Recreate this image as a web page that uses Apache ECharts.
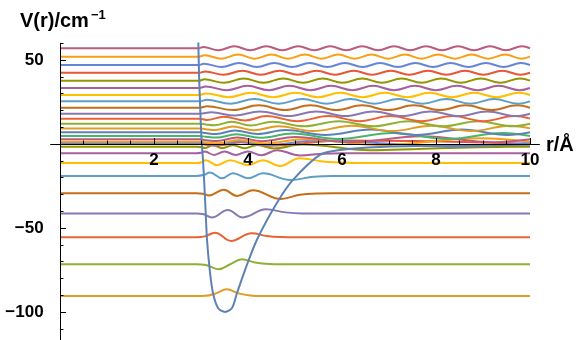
<!DOCTYPE html>
<html>
<head>
<meta charset="utf-8">
<script src="https://cdn.jsdelivr.net/npm/echarts@6/dist/echarts.min.js"></script>
<style>
  html, body { margin: 0; padding: 0; background: #fff; }
  #chart { width: 579px; height: 340px; }
</style>
</head>
<body>
<div id="chart"></div>
<script>
// Potential curve V(r) in cm^-1 against r in Å
const potential = [
  [2.943, 60.5], [2.96, 40], [2.985, 20], [3.015, 0.6], [3.043, -9.5], [3.09, -35],
  [3.128, -57], [3.19, -76], [3.255, -88.7], [3.362, -97.6], [3.511, -100],
  [3.66, -97.6], [3.766, -88.7], [3.95, -74], [4.19, -57], [4.617, -35],
  [4.957, -21.4], [5.53, -6.5], [5.96, -3.6], [6.81, -1.8], [8.3, -0.9], [10, -0.5]
];

// Eigenvalues (cm^-1), lowest first; each wavefunction is drawn offset by its level
const levelE = [
  -90.5, -71.6, -55.5, -41.3, -29.3, -19.0, -11.3, -5.5, -1.6,
  0.1, 0.55, 1.4, 2.8, 4.8, 7.0, 9.3, 12.1, 15.1, 18.0, 21.6,
  25.4, 29.2, 33.3, 37.7, 42.4, 47.0, 52.0, 57.0
];

// Wavefunction deflections [r, psi] for each level
const psi01 = [[0,0],[2.9,0],[3.1,0.1],[3.3,1.4],[3.55,4.0],[3.8,1.6],[4.05,0.3],[4.3,0],[10,0]];
const psi02 = [[0,0],[2.9,0],[3.1,-0.4],[3.37,-2.9],[3.62,0],[3.87,3.0],[4.15,1.0],[4.45,0.1],[4.7,0],[10,0]];
const psi03 = [[0,0],[2.9,0],[3.08,0.5],[3.3,2.7],[3.64,-2.2],[4.08,2.4],[4.4,0.7],[4.7,0.1],[5.0,0],[10,0]];
const psi04 = [[0,0],[2.9,0],[3.06,-0.5],[3.23,-2.4],[3.57,2.0],[3.89,-2.4],[4.38,2.4],[4.8,0.6],[5.15,0],[10,0]];
const psi05 = [[0,0],[2.9,0],[3.04,-0.3],[3.17,-1.3],[3.48,2.0],[3.77,-1.6],[4.1,1.8],[4.7,-3.4],[5.1,-0.9],[5.5,-0.1],[5.8,0],[10,0]];
const psi06 = [[0,0],[2.9,0],[3.05,0.5],[3.19,2.0],[3.45,-1.4],[3.68,1.6],[4.0,-1.4],[4.32,1.6],[4.9,-2.4],[5.4,-0.5],[5.8,0],[10,0]];
const psi07 = [[0,0],[2.9,0],[3.0,0.3],[3.1,1.7],[3.34,-1.3],[3.62,1.7],[4.0,-1.3],[4.32,1.7],[4.68,-1.8],[5.1,2.8],[5.6,0.9],[6.1,0.1],[6.4,0],[10,0]];
const psi08 = [[0,0],[2.9,0],[3.0,0.3],[3.08,1.0],[3.28,-1.0],[3.5,1.0],[3.74,-1.0],[4.0,1.1],[4.28,-1.2],[4.62,1.8],[5.1,-1.3],[5.6,-0.3],[6.0,0],[10,0]];
const psi09 = [[0,0],[2.9,0],[3.0,-0.2],[3.08,-0.8],[3.25,0.9],[3.45,-0.9],[3.68,0.9],[3.92,-0.9],[4.2,1.0],[4.55,-1.1],[5.15,1.3],[6.6,-2.1],[7.6,-1.4],[8.5,-0.6],[9.3,-0.15],[10,0]];
const psi10 = [[0,0],[2.9,0],[2.98,0],[3.1,-0.5],[3.37,-1.0],[3.85,1.0],[4.45,-1.1],[6.0,2.0],[7.5,1.65],[8.8,0.9],[10,0]];
const psi11 = [[0,0],[2.9,0],[2.98,0],[3.1,-0.5],[3.36,-1.0],[3.82,1.0],[4.4,-1.1],[5.5,1.6],[6.9,-0.2],[8.27,-2.0],[9.2,-1.3],[10,0]];
const psi12 = [[0,0],[2.9,0],[2.98,0],[3.1,-0.5],[3.35,-1.0],[3.8,1.0],[4.35,-1.1],[5.2,1.5],[6.77,-2.0],[8.92,2.0],[9.55,1.2],[10,0]];
const psi13 = [[0,0],[2.9,0],[2.98,0],[3.1,-0.5],[3.34,-1.0],[3.77,1.0],[4.3,-1.1],[5.0,1.4],[6.16,-1.8],[7.70,1.8],[9.23,-1.8],[10,0]];
const psi14 = [[0,0],[2.9,0],[2.98,0],[3.1,-0.5],[3.33,-1.0],[3.75,1.0],[4.25,-1.1],[4.95,1.4],[5.91,-1.8],[7.08,1.8],[8.25,-1.8],[9.42,1.8],[10,0]];
const psi15 = [[0,0],[2.9,0],[2.98,0],[3.1,-0.5],[3.32,-1.0],[3.72,1.0],[4.2,-1.1],[4.8,1.3],[5.64,-1.6],[6.61,1.6],[7.58,-1.6],[8.55,1.6],[9.52,-1.6],[10,0]];
const psi16 = [[0,0],[2.9,0],[2.98,0],[3.1,-0.5],[3.30,-1.0],[3.68,1.1],[4.12,-1.1],[4.65,1.3],[5.38,-1.6],[6.22,1.6],[7.06,-1.6],[7.90,1.6],[8.74,-1.6],[9.58,1.6],[10,0]];
const psi17 = [[0,0],[2.9,0],[2.98,0],[3.1,-0.5],[3.28,-1.0],[3.65,1.1],[4.05,-1.1],[4.52,1.2],[5.19,-1.5],[5.93,1.5],[6.67,-1.5],[7.41,1.5],[8.15,-1.5],[8.89,1.5],[9.63,-1.5],[10,0]];
const psi18 = [[0,0],[2.9,0],[2.97,0],[3.12,-0.8],[3.49,1.1],[3.94,-1.1],[4.39,1.5],[5.05,-1.5],[5.71,1.5],[6.37,-1.5],[7.03,1.5],[7.69,-1.5],[8.35,1.5],[9.01,-1.5],[9.67,1.5],[10,0]];
const psi19 = [[0,0],[2.9,0],[2.97,0],[3.22,0.9],[3.72,-1.1],[4.25,1.4],[4.86,-1.4],[5.46,1.4],[6.07,-1.4],[6.67,1.4],[7.28,-1.4],[7.88,1.4],[8.49,-1.4],[9.09,1.4],[9.70,-1.4],[10,0]];
const psi20 = [[0,0],[2.9,0],[2.97,0],[3.13,0.9],[3.68,-1.4],[4.23,1.4],[4.78,-1.4],[5.33,1.4],[5.88,-1.4],[6.43,1.4],[6.98,-1.4],[7.53,1.4],[8.08,-1.4],[8.63,1.4],[9.18,-1.4],[9.73,1.4],[10,0]];
const psi21 = [[0,0],[2.9,0],[2.97,0],[3.12,0.9],[3.63,-1.4],[4.14,1.4],[4.65,-1.4],[5.16,1.4],[5.67,-1.4],[6.18,1.4],[6.69,-1.4],[7.20,1.4],[7.71,-1.4],[8.22,1.4],[8.73,-1.4],[9.24,1.4],[9.75,-1.4],[10,0]];
const psi22 = [[0,0],[2.9,0],[2.96,0],[3.11,0.9],[3.59,-1.3],[4.06,1.3],[4.54,-1.3],[5.01,1.3],[5.49,-1.3],[5.96,1.3],[6.44,-1.3],[6.91,1.3],[7.39,-1.3],[7.86,1.3],[8.34,-1.3],[8.81,1.3],[9.29,-1.3],[9.76,1.3],[10,0]];
const psi23 = [[0,0],[2.9,0],[2.96,0],[3.10,0.9],[3.55,-1.3],[3.99,1.3],[4.44,-1.3],[4.88,1.3],[5.33,-1.3],[5.77,1.3],[6.22,-1.3],[6.66,1.3],[7.11,-1.3],[7.55,1.3],[8.00,-1.3],[8.44,1.3],[8.89,-1.3],[9.33,1.3],[9.78,-1.3],[10,0]];
const psi24 = [[0,0],[2.9,0],[2.96,0],[3.07,0.8],[3.49,-1.3],[3.91,1.3],[4.33,-1.3],[4.75,1.3],[5.17,-1.3],[5.59,1.3],[6.01,-1.3],[6.43,1.3],[6.85,-1.3],[7.27,1.3],[7.69,-1.3],[8.11,1.3],[8.53,-1.3],[8.95,1.3],[9.37,-1.3],[9.79,1.3],[10,0]];
const psi25 = [[0,0],[2.9,0],[2.96,0],[3.09,0.8],[3.48,-1.2],[3.88,1.2],[4.27,-1.2],[4.67,1.2],[5.06,-1.2],[5.46,1.2],[5.85,-1.2],[6.25,1.2],[6.64,-1.2],[7.04,1.2],[7.43,-1.2],[7.83,1.2],[8.22,-1.2],[8.62,1.2],[9.01,-1.2],[9.41,1.2],[9.80,-1.2],[10,0]];
const psi26 = [[0,0],[2.9,0],[2.955,0],[3.06,0.8],[3.44,-1.2],[3.81,1.2],[4.19,-1.2],[4.56,1.2],[4.94,-1.2],[5.31,1.2],[5.69,-1.2],[6.06,1.2],[6.44,-1.2],[6.81,1.2],[7.19,-1.2],[7.56,1.2],[7.94,-1.2],[8.31,1.2],[8.69,-1.2],[9.06,1.2],[9.44,-1.2],[9.81,1.2],[10,0]];
const psi27 = [[0,0],[2.9,0],[2.95,0],[3.08,0.8],[3.43,-1.2],[3.79,1.2],[4.14,-1.2],[4.50,1.2],[4.85,-1.2],[5.21,1.2],[5.56,-1.2],[5.92,1.2],[6.27,-1.2],[6.63,1.2],[6.98,-1.2],[7.34,1.2],[7.69,-1.2],[8.05,1.2],[8.40,-1.2],[8.76,1.2],[9.11,-1.2],[9.47,1.2],[9.82,-1.2],[10,0]];
const psi28 = [[0,0],[2.9,0],[2.95,0],[3.05,0.8],[3.37,-1.2],[3.71,1.2],[4.05,-1.2],[4.39,1.2],[4.73,-1.2],[5.07,1.2],[5.41,-1.2],[5.75,1.2],[6.09,-1.2],[6.43,1.2],[6.77,-1.2],[7.11,1.2],[7.45,-1.2],[7.79,1.2],[8.13,-1.2],[8.47,1.2],[8.81,-1.2],[9.15,1.2],[9.49,-1.2],[9.83,1.2],[10,0]];

const waves = [psi01, psi02, psi03, psi04, psi05, psi06, psi07, psi08, psi09, psi10,
  psi11, psi12, psi13, psi14, psi15, psi16, psi17, psi18, psi19, psi20,
  psi21, psi22, psi23, psi24, psi25, psi26, psi27, psi28];

// Axis ticks and labels
const xMajorTicks = [2, 4, 6, 8, 10];
const xMinorTicks = [0.5, 1, 1.5, 2.5, 3, 3.5, 4.5, 5, 5.5, 6.5, 7, 7.5, 8.5, 9, 9.5];
const yMajorTicks = [-100, -50, 50];
const yMinorTicks = [-110, -90, -80, -70, -60, -40, -30, -20, -10, 10, 20, 30, 40, 60];

const palette = ['#5E81B5', '#E19C24', '#8FB032', '#EB6235', '#8778B3', '#C56E1A', '#5D9EC7',
  '#FFBF00', '#A5609D', '#929600', '#E95536', '#6685D9', '#F89F13', '#BC5B80', '#47B66D'];

const FONT = '"Liberation Sans", Arial, Helvetica, sans-serif';

// Plot box: value 60 at the top edge, value -120 just past the bottom of the canvas
const GRID_TOP = 43.2;
const GRID_BOTTOM = -5.6;
const Y_MIN = -120, Y_MAX = 60;
const plotHeight = 340 - GRID_TOP - GRID_BOTTOM;
// lift the r axis from the bottom edge up to V = 0
const xAxisLift = -plotHeight * (0 - Y_MIN) / (Y_MAX - Y_MIN);

const chart = echarts.init(document.getElementById('chart'), null, { renderer: 'canvas' });

const levelSeries = levelE.map((E, i) => ({
  type: 'line',
  xAxisIndex: 0,
  yAxisIndex: 0,
  data: waves[i].map(([r, d]) => [r, E + d]),
  showSymbol: false,
  smooth: 0.4,
  clip: true,
  silent: true,
  z: 2,
  lineStyle: { color: palette[(i + 1) % palette.length], width: 2 }
}));

const potentialSeries = {
  type: 'line',
  xAxisIndex: 0,
  yAxisIndex: 0,
  data: potential,
  showSymbol: false,
  smooth: 0.3,
  clip: true,
  silent: true,
  z: 3,
  lineStyle: { color: palette[0], width: 2 }
};

const axisText = { color: '#000', fontSize: 17, fontWeight: 'bold', fontFamily: FONT };

chart.setOption({
  animation: false,
  backgroundColor: '#fff',
  grid: { left: 50.6, right: 39.6, top: GRID_TOP, bottom: GRID_BOTTOM, containLabel: false, outerBoundsMode: 'none' },
  xAxis: [
    {
      type: 'value', min: -0.2, max: 10.2, z: 5, position: 'bottom', offset: xAxisLift,
      axisLine: { onZero: false, lineStyle: { color: '#000', width: 1 } },
      axisTick: { inside: true, length: 6, customValues: xMajorTicks, lineStyle: { color: '#000', width: 1 } },
      axisLabel: Object.assign({ customValues: xMajorTicks, margin: 8, hideOverlap: false }, axisText),
      splitLine: { show: false }
    },
    {
      type: 'value', min: -0.2, max: 10.2, z: 5, position: 'bottom', offset: xAxisLift,
      axisLine: { show: false, onZero: false },
      axisTick: { inside: true, length: 3.5, customValues: xMinorTicks, lineStyle: { color: '#000', width: 1 } },
      axisLabel: { show: false },
      splitLine: { show: false }
    }
  ],
  yAxis: [
    {
      type: 'value', min: Y_MIN, max: Y_MAX, z: 5, position: 'left',
      axisLine: { onZero: true, onZeroAxisIndex: 0, lineStyle: { color: '#000', width: 1 } },
      axisTick: { inside: true, length: 6, customValues: yMajorTicks, lineStyle: { color: '#000', width: 1 } },
      axisLabel: Object.assign({
        customValues: yMajorTicks, margin: 7,
        formatter: v => (v < 0 ? '\u2212' + Math.abs(v) : String(v))
      }, axisText),
      splitLine: { show: false }
    },
    {
      type: 'value', min: Y_MIN, max: Y_MAX, z: 5, position: 'left',
      axisLine: { show: false, onZero: true, onZeroAxisIndex: 0 },
      axisTick: { inside: true, length: 3.5, customValues: yMinorTicks, lineStyle: { color: '#000', width: 1 } },
      axisLabel: { show: false },
      splitLine: { show: false }
    }
  ],
  graphic: [
    { type: 'text', left: 20, top: 11, z: 10,
      style: { text: 'V(r)/cm', font: 'bold 20px ' + FONT, fill: '#000' } },
    { type: 'text', left: 91, top: 9, z: 10,
      style: { text: '\u22121', font: 'bold 13px ' + FONT, fill: '#000' } },
    { type: 'text', left: 546, top: 135, z: 10,
      style: { text: 'r/\u00C5', font: 'bold 20px ' + FONT, fill: '#000' } }
  ],
  series: levelSeries.concat([potentialSeries])
});
</script>
</body>
</html>
